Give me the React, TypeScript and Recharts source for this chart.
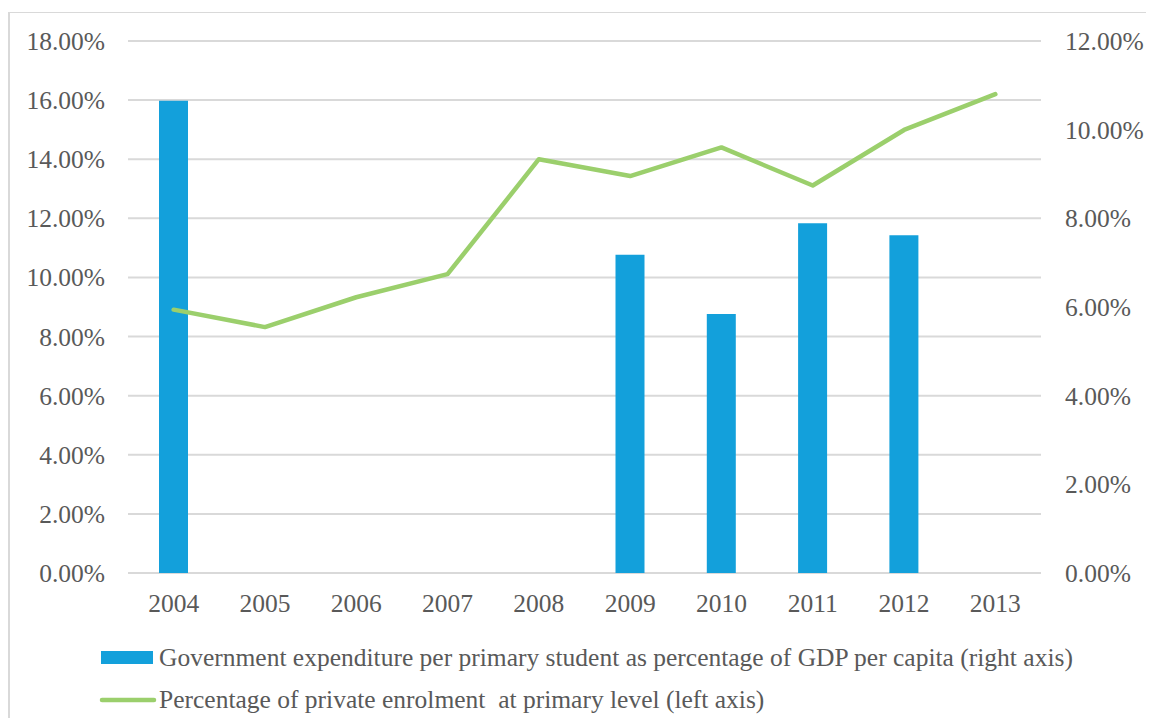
import React from 'react';
import { ComposedChart, Bar, Line, XAxis, YAxis, CartesianGrid, Legend } from 'recharts';

const years = ['2004', '2005', '2006', '2007', '2008', '2009', '2010', '2011', '2012', '2013'];
// right axis, % of GDP per capita
const govExpenditure = [10.65, null, null, null, null, 7.18, 5.84, 7.89, 7.62, null];
// left axis, % private enrolment
const privateEnrolment = [8.91, 8.32, 9.33, 10.11, 14.0, 13.43, 14.4, 13.11, 14.99, 16.2];
const leftTicks = [0, 2, 4, 6, 8, 10, 12, 14, 16, 18];
const rightTicks = [0, 2, 4, 6, 8, 10, 12];

const barLabel = 'Government expenditure per primary student as percentage of GDP per capita (right axis)';
const lineLabel = 'Percentage of private enrolment  at primary level (left axis)';

const data = years.map((year, i) => ({
  year,
  gov: govExpenditure[i],
  priv: privateEnrolment[i],
}));

const BLUE = '#13a0db';
const GREEN = '#9bcf6c';
const TEXT = '#595959';
const GRID = '#d9d9d9';
const FONT = '"Liberation Serif", serif';
const FS = 25.5;

const pct = (v: number) => `${v.toFixed(2)}%`;

const tickStyle = { fill: TEXT, fontSize: FS, fontFamily: FONT };

const ChartLegend = () => (
  <div style={{ position: 'relative', height: 95, fontFamily: FONT, fontSize: FS, color: TEXT }}>
    <div style={{ position: 'absolute', left: 93, top: 28, width: 52, height: 13, background: BLUE }} />
    <div style={{ position: 'absolute', left: 151, top: 34.5, transform: 'translateY(-50%)', whiteSpace: 'pre' }}>{barLabel}</div>
    <svg style={{ position: 'absolute', left: 90, top: 70 }} width={62} height={14}>
      <line x1={4} y1={7} x2={56} y2={7} stroke={GREEN} strokeWidth={4.5} strokeLinecap="round" />
    </svg>
    <div style={{ position: 'absolute', left: 151, top: 76.5, transform: 'translateY(-50%)', whiteSpace: 'pre' }}>{lineLabel}</div>
  </div>
);

export default function App() {
  return (
    <div style={{ position: 'relative', width: 1146, height: 710, overflow: 'hidden' }}>
      <div
        style={{
          position: 'absolute', left: 0, top: 4, width: 2000, height: 2000,
          borderLeft: `2px solid ${GRID}`, borderTop: `1.5px solid ${GRID}`,
        }}
      />
      <ComposedChart
        width={1146}
        height={710}
        data={data}
        margin={{ top: 33, right: 0, bottom: 0, left: 0 }}
        style={{ position: 'relative' }}
      >
        <CartesianGrid yAxisId="left" vertical={false} stroke={GRID} strokeWidth={2} />
        <XAxis
          dataKey="year"
          height={50}
          axisLine={false}
          tickLine={false}
          tickSize={0}
          tickMargin={21}
          tick={tickStyle}
          interval={0}
        />
        <YAxis
          yAxisId="left"
          orientation="left"
          width={120}
          domain={[0, 18]}
          ticks={leftTicks}
          tickFormatter={pct}
          axisLine={false}
          tickLine={false}
          tickSize={0}
          tickMargin={23}
          tick={tickStyle}
        />
        <YAxis
          yAxisId="right"
          orientation="right"
          width={113}
          domain={[0, 12]}
          ticks={rightTicks}
          tickFormatter={pct}
          axisLine={false}
          tickLine={false}
          tickSize={0}
          tickMargin={24}
          tick={tickStyle}
        />
        <Bar yAxisId="right" dataKey="gov" fill={BLUE} barSize={29} isAnimationActive={false} />
        <Line
          yAxisId="left"
          dataKey="priv"
          stroke={GREEN}
          strokeWidth={4.5}
          strokeLinecap="round"
          strokeLinejoin="round"
          dot={false}
          type="linear"
          isAnimationActive={false}
        />
        <Legend verticalAlign="bottom" content={() => <ChartLegend />} />
      </ComposedChart>
    </div>
  );
}
